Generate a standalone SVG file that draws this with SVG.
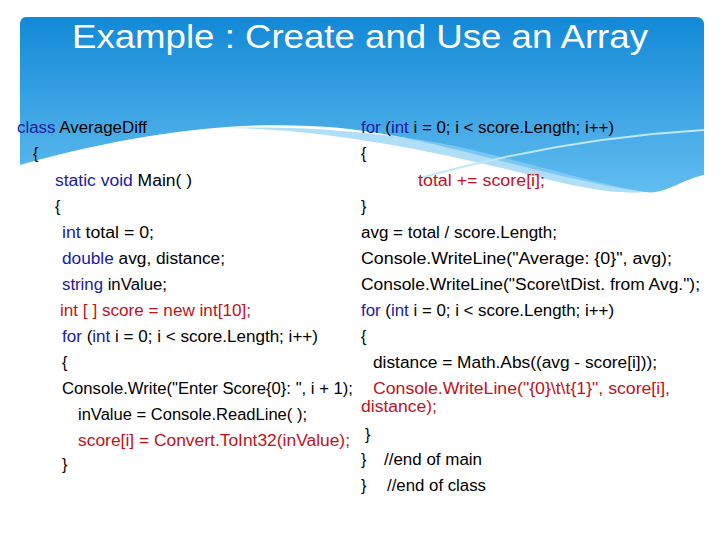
<svg xmlns="http://www.w3.org/2000/svg" width="720" height="540" viewBox="0 0 720 540">
<defs>
<linearGradient id="bg" x1="0" y1="0" x2="0" y2="1">
<stop offset="0" stop-color="#1289d6"/>
<stop offset="1" stop-color="#62bdf0"/>
</linearGradient>
<style>
text{font-family:"Liberation Sans",Arial,sans-serif;font-size:16px;fill:#000}
.k{fill:#1a1aa6}
.r{fill:#c0121a}
.t{font-size:34px;fill:#fff}
</style>
</defs>
<rect width="720" height="540" fill="#fff"/>
<g id="header">
<path d="M26,17 H696 Q704,17 704,25 V175 C680,180 665,195 645,192 C560,180 470,150 390,135 C300,118 180,120 20,165 V25 Q20,17 26,17 Z" fill="url(#bg)"/>
<path d="M230,128 C330,130 430,150 530,175 C580,188 620,195 645,192 C600,185 520,160 450,145 C380,132 300,126 230,128 Z" fill="#8dd0f5" opacity="0.7"/>
<path d="M420,178 C520,150 620,135 704,130" stroke="#bfe6fb" stroke-width="2" fill="none"/>
<text class="t" x="360" y="48" text-anchor="middle" textLength="576" lengthAdjust="spacingAndGlyphs">Example : Create and Use an Array</text>
</g>
<g id="left">
<text x="17" y="133" textLength="130" lengthAdjust="spacingAndGlyphs"><tspan class="k">class</tspan> AverageDiff</text>
<text x="33" y="159">{</text>
<text x="55" y="186" textLength="137" lengthAdjust="spacingAndGlyphs"><tspan class="k">static void</tspan> Main( )</text>
<text x="55" y="212">{</text>
<text x="62" y="238" textLength="92" lengthAdjust="spacingAndGlyphs"><tspan class="k">int</tspan> total = 0;</text>
<text x="62" y="264" textLength="163" lengthAdjust="spacingAndGlyphs"><tspan class="k">double</tspan> avg, distance;</text>
<text x="62" y="290" textLength="105" lengthAdjust="spacingAndGlyphs"><tspan class="k">string</tspan> inValue;</text>
<text class="r" x="60" y="316" textLength="191" lengthAdjust="spacingAndGlyphs">int [ ] score = new int[10];</text>
<text x="62" y="342" textLength="256" lengthAdjust="spacingAndGlyphs"><tspan class="k">for</tspan> (<tspan class="k">int</tspan> i = 0; i &lt; score.Length; i++)</text>
<text x="62" y="368">{</text>
<text x="62" y="394" textLength="291" lengthAdjust="spacingAndGlyphs">Console.Write("Enter Score{0}: ", i + 1);</text>
<text x="78" y="420" textLength="229" lengthAdjust="spacingAndGlyphs">inValue = Console.ReadLine( );</text>
<text class="r" x="78" y="446" textLength="272" lengthAdjust="spacingAndGlyphs">score[i] = Convert.ToInt32(inValue);</text>
<text x="62" y="470">}</text>
</g>
<g id="right">
<text x="361" y="133" textLength="253" lengthAdjust="spacingAndGlyphs"><tspan class="k">for</tspan> (<tspan class="k">int</tspan> i = 0; i &lt; score.Length; i++)</text>
<text x="361" y="159">{</text>
<text class="r" x="418" y="186" textLength="127" lengthAdjust="spacingAndGlyphs">total += score[i];</text>
<text x="361" y="212">}</text>
<text x="361" y="238" textLength="196" lengthAdjust="spacingAndGlyphs">avg = total / score.Length;</text>
<text x="361" y="264" textLength="311" lengthAdjust="spacingAndGlyphs">Console.WriteLine("Average: {0}", avg);</text>
<text x="361" y="290" textLength="339" lengthAdjust="spacingAndGlyphs">Console.WriteLine("Score\tDist. from Avg.");</text>
<text x="361" y="316" textLength="253" lengthAdjust="spacingAndGlyphs"><tspan class="k">for</tspan> (<tspan class="k">int</tspan> i = 0; i &lt; score.Length; i++)</text>
<text x="361" y="342">{</text>
<text x="373" y="368" textLength="284" lengthAdjust="spacingAndGlyphs">distance = Math.Abs((avg - score[i]));</text>
<text class="r" x="373" y="394" textLength="297" lengthAdjust="spacingAndGlyphs">Console.WriteLine("{0}\t\t{1}", score[i],</text>
<text class="r" x="361" y="412" textLength="76" lengthAdjust="spacingAndGlyphs">distance);</text>
<text x="365" y="440">}</text>
<text x="361" y="465">}</text>
<text x="384" y="465" textLength="98" lengthAdjust="spacingAndGlyphs">//end of main</text>
<text x="361" y="491">}</text>
<text x="387" y="491" textLength="99" lengthAdjust="spacingAndGlyphs">//end of class</text>
</g>
</svg>
